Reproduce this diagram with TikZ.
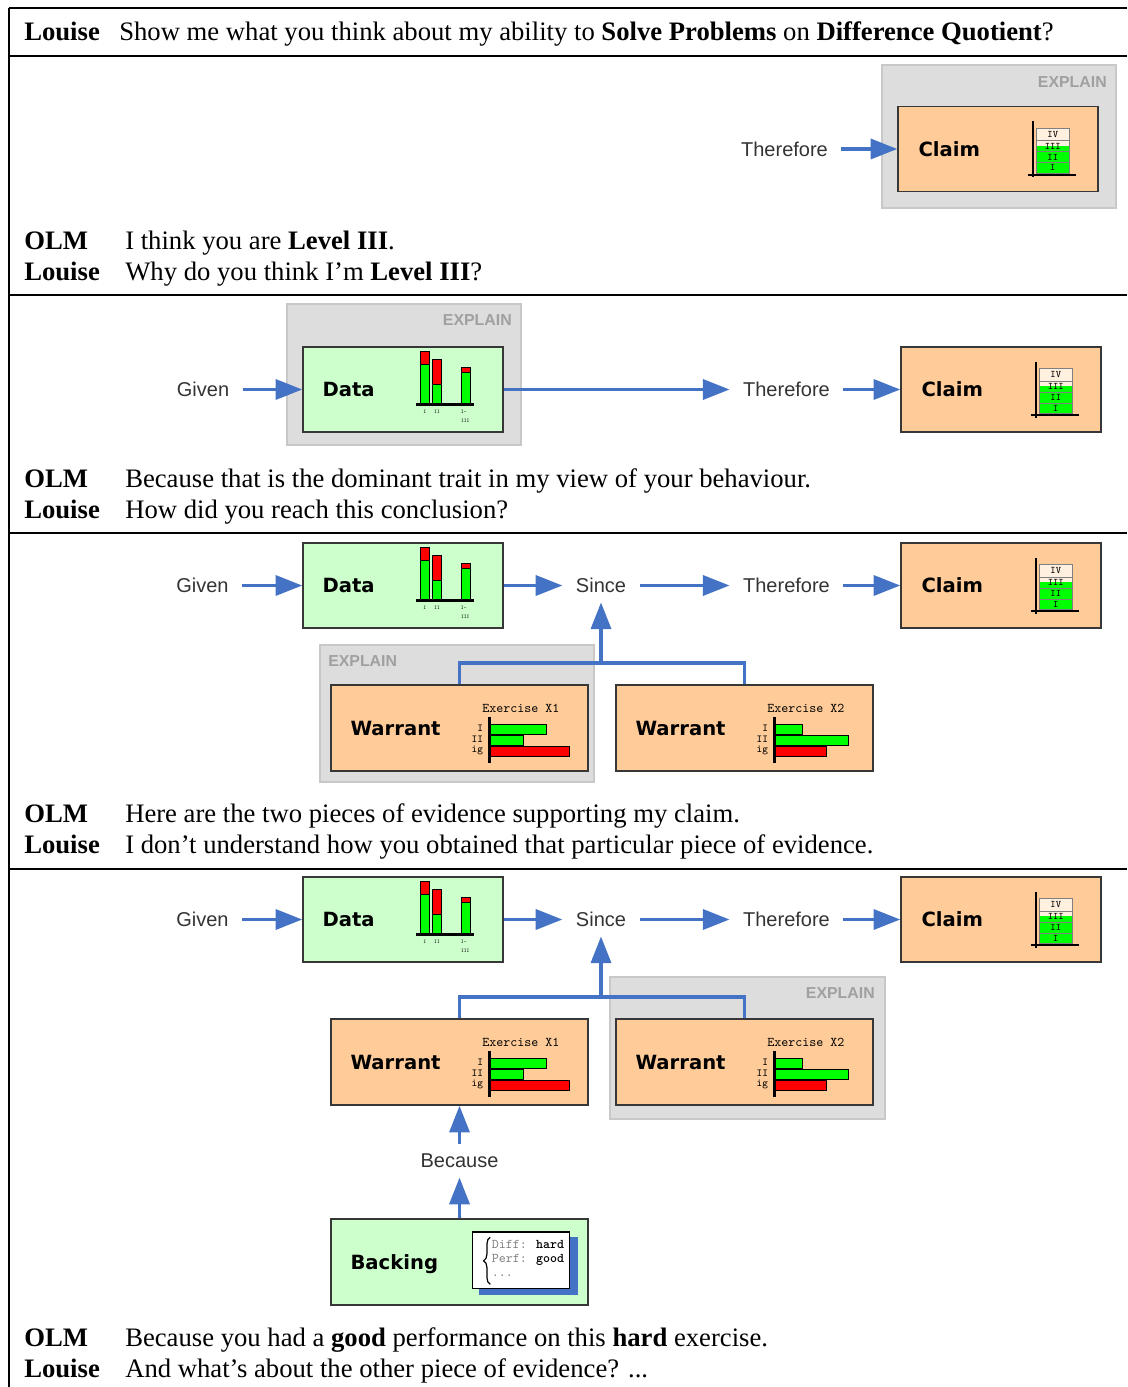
\documentclass[tikz,border=0pt]{standalone}
\usepackage{fontspec}
\setmainfont{Liberation Serif}
\newfontfamily\stepfont{Liberation Sans}
\newfontfamily\boxfont{DejaVu Sans}
\usetikzlibrary{arrows.meta,decorations.pathreplacing}

\definecolor{olmblue}{RGB}{68,114,196}
\definecolor{peach}{RGB}{255,204,153}
\definecolor{mint}{RGB}{204,255,204}
\definecolor{explainfill}{RGB}{221,221,221}
\definecolor{explainedge}{RGB}{200,200,200}
\definecolor{explaintext}{RGB}{160,160,160}
\definecolor{boxedge}{RGB}{55,55,55}
\definecolor{steptext}{RGB}{51,51,51}
\definecolor{barred}{RGB}{255,0,0}
\definecolor{bargreen}{RGB}{0,255,0}

\tikzset{
  % level scale shown in a claim box
  levels/.pic={
    \fill[peach!30!white] (139,22.3) rectangle (172,40);
    \fill[bargreen] (139,40) rectangle (172,67.3);
    \foreach \ya/\yb/\lv in {22.3/35/IV, 35/45.7/III, 45.7/56.7/II, 56.7/67.3/I}{
      \draw[gray, line width=0.5pt] (139,\ya) rectangle (172,\yb);
      \node[font=\ttfamily\fontsize{7.5}{7.5}\selectfont, inner sep=0pt] at (155.5,{(\ya+\yb)/2}) {\lv};
    }
    \draw[line width=1.5pt] (136,15.7) -- (136,71.3);
    \draw[line width=1.5pt] (131,69) -- (178.7,69);
  },
  % stacked bars shown in a data box
  databars/.pic={
    \filldraw[fill=barred, line width=0.5pt] (118,4.7) rectangle (127,18);
    \filldraw[fill=bargreen, line width=0.5pt] (118,18) rectangle (127,58.3);
    \filldraw[fill=barred, line width=0.5pt] (130.3,13) rectangle (139.3,38);
    \filldraw[fill=bargreen, line width=0.5pt] (130.3,38) rectangle (139.3,58.3);
    \filldraw[fill=barred, line width=0.5pt] (158.7,20.7) rectangle (167.7,25.7);
    \filldraw[fill=bargreen, line width=0.5pt] (158.7,25.7) rectangle (167.7,58.3);
    \draw[line width=2pt] (113.7,58.3) -- (172,58.3);
    \node[font=\ttfamily\fontsize{4}{4}\selectfont, inner sep=0pt] at (122.5,65.7) {I};
    \node[font=\ttfamily\fontsize{4}{4}\selectfont, inner sep=0pt] at (134.8,65.7) {II};
    \node[font=\ttfamily\fontsize{4}{4}\selectfont, inner sep=0pt] at (161.5,65.7) {I-};
    \node[font=\ttfamily\fontsize{4}{4}\selectfont, inner sep=0pt] at (163,74.7) {III};
  },
  % horizontal bars shown in a warrant box
  pics/exbars/.style n args={4}{code={
    \node[font=\ttfamily\fontsize{10}{10}\selectfont, inner sep=0pt] at (190.7,24) {#1};
    \filldraw[fill=bargreen, line width=0.6pt] (159,40) rectangle (#2,50.5);
    \filldraw[fill=bargreen, line width=0.6pt] (159,51) rectangle (#3,61);
    \filldraw[fill=barred, line width=0.6pt] (159,62) rectangle (#4,72);
    \draw[line width=2.2pt] (159,33) -- (159,79);
    \foreach \yy/\lab in {44/I, 55/II, 66/ig}
      \node[font=\ttfamily\fontsize{8}{8}\selectfont, anchor=east, inner sep=0pt] at (153,\yy) {\lab};
  }},
  % note card shown in the backing box
  notecard/.pic={
    \fill[olmblue] (149,19) rectangle (247.3,77);
    \filldraw[fill=white, draw=black, line width=0.8pt] (142.3,13.7) rectangle (239,70);
    \draw[line width=0.9pt, decorate, decoration={brace, amplitude=5pt}] (160,66) -- (160,19);
    \node[font=\ttfamily\fontsize{10}{10}\selectfont, anchor=west, inner sep=0pt] at (161.3,26) {\textcolor{gray}{Diff:} \textbf{hard}};
    \node[font=\ttfamily\fontsize{10}{10}\selectfont, anchor=west, inner sep=0pt] at (161.3,41.7) {\textcolor{gray}{Perf:} \textbf{good}};
    \node[font=\ttfamily\fontsize{10}{10}\selectfont, anchor=west, inner sep=0pt] at (161.3,57.7) {\textcolor{gray}{...}};
  }
}

\begin{document}
\begin{tikzpicture}[x=0.75pt, y=-0.75pt,
  frame/.style={line width=1.5pt},
  speaker/.style={font=\fontsize{20}{24}\selectfont\bfseries, anchor=base west, inner sep=0pt},
  utter/.style={font=\fontsize{20}{24}\selectfont, anchor=base west, inner sep=0pt},
  tbox/.style={draw=boxedge, line width=1.1pt, inner sep=0pt},
  claimbox/.style={tbox, fill=peach, minimum width=150pt, minimum height=63.75pt},
  databox/.style={tbox, fill=mint, minimum width=150pt, minimum height=63.75pt},
  warrantbox/.style={tbox, fill=peach, minimum width=192.75pt, minimum height=64.5pt},
  backingbox/.style={tbox, fill=mint, minimum width=192.75pt, minimum height=64.5pt},
  boxtitle/.style={font=\boxfont\bfseries\fontsize{14.7}{15}\selectfont, anchor=base west, inner sep=0pt},
  explainbox/.style={draw=explainedge, fill=explainfill, line width=1pt},
  explaintag/.style={font=\stepfont\bfseries\fontsize{11.9}{12}\selectfont, text=explaintext, inner sep=0pt},
  steplabel/.style={font=\stepfont\fontsize{15}{15}\selectfont, text=steptext, inner xsep=10pt, inner ysep=7pt},
  flowarrow/.style={draw=olmblue, line width=2.6pt, -{Triangle[length=20pt,width=15pt]}},
  treeline/.style={draw=olmblue, line width=2.3pt}]

\useasboundingbox (0,0) rectangle (1127,1387);

% table frame
\draw[frame] (9,8) -- (1127,8);
\draw[frame] (9,56) -- (1127,56);
\draw[frame] (9,295) -- (1127,295);
\draw[frame] (9,533) -- (1127,533);
\draw[frame] (9,869) -- (1127,869);
\draw[frame] (9,8) -- (9,1387);

\node[speaker] (who0) at (24,40.5) {Louise};
\node[utter] (say0) at (119,40.5) {Show me what you think about my ability to \textbf{Solve Problems} on \textbf{Difference Quotient}?};

% step 1
\draw[explainbox] (882,65) rectangle (1116,208);
\node[explaintag, anchor=east] (tag1) at (1107,82) {EXPLAIN};
\node[claimbox] (claim1) at (998,149) {};
\node[boxtitle] at ([xshift=15.75pt,yshift=-5.4pt]claim1.west) {Claim};
\pic at (claim1.north west) {levels};
\node[steplabel] (then1) at (784.5,149) {Therefore};
\draw[flowarrow] (then1) -- (claim1);

\node[speaker] (who1a) at (24,249.5) {OLM};
\node[utter] (say1a) at (125,249.5) {I think you are \textbf{Level III}.};
\node[speaker] (who1b) at (24,280.5) {Louise};
\node[utter] (say1b) at (125,280.5) {Why do you think I’m \textbf{Level III}?};

% step 2
\draw[explainbox] (287,304) rectangle (521,445);
\node[explaintag, anchor=east] (tag2) at (512,320) {EXPLAIN};
\node[databox] (data2) at (403,389.5) {};
\node[boxtitle] at ([xshift=15pt,yshift=-5.4pt]data2.west) {Data};
\pic at (data2.north west) {databars};
\node[claimbox] (claim2) at (1001,389.5) {};
\node[boxtitle] at ([xshift=15.75pt,yshift=-5.4pt]claim2.west) {Claim};
\pic at (claim2.north west) {levels};
\node[steplabel] (given2) at (203,389.5) {Given};
\node[steplabel] (then2) at (786.5,389.5) {Therefore};
\draw[flowarrow] (given2) -- (data2);
\draw[flowarrow] (data2) -- (then2);
\draw[flowarrow] (then2) -- (claim2);

\node[speaker] (who2a) at (24,487.5) {OLM};
\node[utter] (say2a) at (125,487.5) {Because that is the dominant trait in my view of your behaviour.};
\node[speaker] (who2b) at (24,518.5) {Louise};
\node[utter] (say2b) at (125,518.5) {How did you reach this conclusion?};

% step 3
\node[databox] (data3) at (403,585.5) {};
\node[boxtitle] at ([xshift=15pt,yshift=-5.4pt]data3.west) {Data};
\pic at (data3.north west) {databars};
\node[claimbox] (claim3) at (1001,585.5) {};
\node[boxtitle] at ([xshift=15.75pt,yshift=-5.4pt]claim3.west) {Claim};
\pic at (claim3.north west) {levels};
\node[steplabel] (given3) at (202.5,585.5) {Given};
\node[steplabel] (since3) at (601,585.5) {Since};
\node[steplabel] (then3) at (786.5,585.5) {Therefore};
\draw[flowarrow] (given3) -- (data3);
\draw[flowarrow] (data3) -- (since3);
\draw[flowarrow] (since3) -- (then3);
\draw[flowarrow] (then3) -- (claim3);

\draw[explainbox] (320,645) rectangle (594,782);
\node[explaintag, anchor=west] (tag3) at (328,661) {EXPLAIN};
\node[warrantbox] (warrant31) at (459.5,728) {};
\node[boxtitle] at ([xshift=15pt,yshift=-5.4pt]warrant31.west) {Warrant};
\pic at (warrant31.north west) {exbars={Exercise X1}{216.3}{193}{239}};
\node[warrantbox] (warrant32) at (744.5,728) {};
\node[boxtitle] at ([xshift=15pt,yshift=-5.4pt]warrant32.west) {Warrant};
\pic at (warrant32.north west) {exbars={Exercise X2}{187.3}{233.3}{210.7}};
\coordinate (join3) at (601,663);
\draw[treeline] (warrant31.north) |- (join3) -| (warrant32.north);
\draw[flowarrow] (join3) -- (since3);

\node[speaker] (who3a) at (24,822.5) {OLM};
\node[utter] (say3a) at (125,822.5) {Here are the two pieces of evidence supporting my claim.};
\node[speaker] (who3b) at (24,853.5) {Louise};
\node[utter] (say3b) at (125,853.5) {I don’t understand how you obtained that particular piece of evidence.};

% step 4
\node[databox] (data4) at (403,919.5) {};
\node[boxtitle] at ([xshift=15pt,yshift=-5.4pt]data4.west) {Data};
\pic at (data4.north west) {databars};
\node[claimbox] (claim4) at (1001,919.5) {};
\node[boxtitle] at ([xshift=15.75pt,yshift=-5.4pt]claim4.west) {Claim};
\pic at (claim4.north west) {levels};
\node[steplabel] (given4) at (202.5,919.5) {Given};
\node[steplabel] (since4) at (601,919.5) {Since};
\node[steplabel] (then4) at (786.5,919.5) {Therefore};
\draw[flowarrow] (given4) -- (data4);
\draw[flowarrow] (data4) -- (since4);
\draw[flowarrow] (since4) -- (then4);
\draw[flowarrow] (then4) -- (claim4);

\draw[explainbox] (610,977) rectangle (885,1119);
\node[explaintag, anchor=east] (tag4) at (875,993) {EXPLAIN};
\node[warrantbox] (warrant41) at (459.5,1062) {};
\node[boxtitle] at ([xshift=15pt,yshift=-5.4pt]warrant41.west) {Warrant};
\pic at (warrant41.north west) {exbars={Exercise X1}{216.3}{193}{239}};
\node[warrantbox] (warrant42) at (744.5,1062) {};
\node[boxtitle] at ([xshift=15pt,yshift=-5.4pt]warrant42.west) {Warrant};
\pic at (warrant42.north west) {exbars={Exercise X2}{187.3}{233.3}{210.7}};
\coordinate (join4) at (601,997);
\draw[treeline] (warrant41.north) |- (join4) -| (warrant42.north);
\draw[flowarrow] (join4) -- (since4);

\node[steplabel] (because4) at (459.5,1161) {Because};
\node[backingbox] (backing4) at (459.5,1262) {};
\node[boxtitle] at ([xshift=15pt,yshift=-5.4pt]backing4.west) {Backing};
\pic at (backing4.north west) {notecard};
\draw[flowarrow] (because4) -- (warrant41);
\draw[flowarrow] (backing4) -- (because4);

\node[speaker] (who4a) at (24,1346.5) {OLM};
\node[utter] (say4a) at (125,1346.5) {Because you had a \textbf{good} performance on this \textbf{hard} exercise.};
\node[speaker] (who4b) at (24,1377.5) {Louise};
\node[utter] (say4b) at (125,1377.5) {And what’s about the other piece of evidence? ...};

\end{tikzpicture}
\end{document}
